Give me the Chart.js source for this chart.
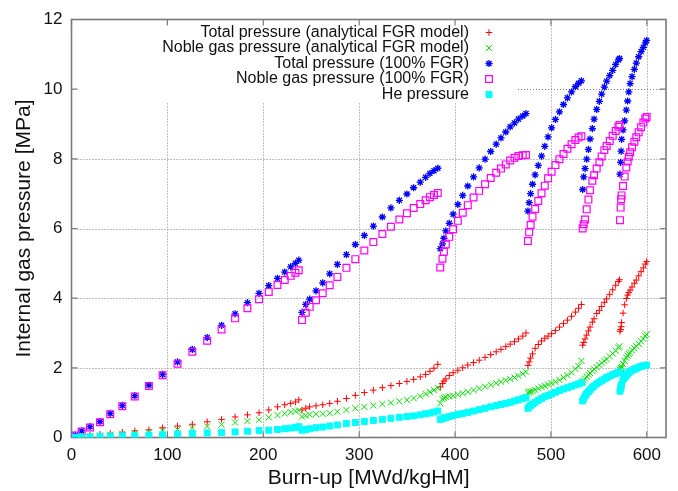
<!DOCTYPE html>
<html>
<head>
<meta charset="utf-8">
<script src="https://cdn.jsdelivr.net/npm/chart.js@4.4.1/dist/chart.umd.min.js"></script>
<style>
  html, body { margin: 0; padding: 0; background: #fff; }
</style>
</head>
<body>
<canvas id="gasChart" width="678" height="491"></canvas>
<script>
// burn-up steps, one row per irradiation cycle
const burnup = [
  4, 10.6, 19.3, 29.7, 40.4, 53, 66, 80.7, 95, 110.6, 126, 141.5, 156.5, 170.6, 183.5, 195.6, 205.7, 214.8, 222.4, 228.6, 233.5, 237,
  240.4, 244.3, 248.4, 255, 262, 269.3, 277.3, 286.7, 296, 305.4, 314.8, 324.2, 333.1, 341.9, 349.8, 356.8, 363.7, 369.3, 373.8, 378, 382,
  384.6, 386.9, 388.4, 390.4, 394, 398, 402.9, 408, 413.3, 419.3, 425.2, 431.3, 437.2, 442.9, 447.9, 452.9, 457.5, 462, 466.1, 470.6, 474,
  476, 477.3, 478.8, 480.8, 483.5, 486.8, 490.2, 493.6, 497, 500.7, 504.7, 508.9, 513.1, 517.2, 521.5, 525.5, 528.8, 531.8,
  533.1, 534.2, 535.6, 537.3, 539.1, 540.8, 543.2, 545, 547.7, 550.5, 552.9, 555.7, 558.1, 561.3, 564.4, 567.5, 570.3, 571.5,
  572, 572.7, 573.2, 573.7, 575.2, 576.9, 578.6, 580, 581.2, 582.6, 584.6, 587, 589, 591.5, 594, 596.4, 598.4, 599.8
];

// pressures in MPa
const totalAnalytical = [
  0.02, 0.04, 0.07, 0.09, 0.12, 0.15, 0.19, 0.22, 0.28, 0.33, 0.38, 0.45, 0.52, 0.59, 0.65, 0.71, 0.79, 0.88, 0.94, 0.98, 1.02, 1.08,
  0.79, 0.84, 0.88, 0.91, 0.94, 0.98, 1.04, 1.12, 1.21, 1.29, 1.36, 1.43, 1.49, 1.55, 1.61, 1.67, 1.74, 1.81, 1.9, 1.99, 2.1,
  1.45, 1.55, 1.62, 1.68, 1.78, 1.86, 1.93, 2.0, 2.08, 2.15, 2.22, 2.3, 2.38, 2.46, 2.53, 2.61, 2.68, 2.75, 2.83, 2.91, 3.0,
  2.07, 2.17, 2.28, 2.4, 2.56, 2.67, 2.77, 2.85, 2.91, 2.98, 3.07, 3.17, 3.27, 3.37, 3.48, 3.6, 3.71, 3.82,
  2.65, 2.73, 2.83, 2.94, 3.06, 3.17, 3.31, 3.41, 3.56, 3.65, 3.76, 3.88, 3.98, 4.11, 4.24, 4.37, 4.48, 4.53,
  3.05, 3.1, 3.18, 3.3, 3.57, 3.81, 3.99, 4.09, 4.16, 4.23, 4.32, 4.43, 4.52, 4.64, 4.76, 4.87, 4.98, 5.05
];
const nobleAnalytical = [
  0.01, 0.02, 0.05, 0.06, 0.08, 0.1, 0.13, 0.15, 0.19, 0.23, 0.27, 0.32, 0.37, 0.43, 0.47, 0.51, 0.58, 0.64, 0.69, 0.73, 0.76, 0.78,
  0.6, 0.63, 0.66, 0.67, 0.68, 0.7, 0.74, 0.79, 0.84, 0.88, 0.92, 0.96, 1.0, 1.04, 1.08, 1.13, 1.19, 1.25, 1.31, 1.36, 1.42,
  0.98, 1.1, 1.14, 1.16, 1.18, 1.2, 1.23, 1.27, 1.31, 1.36, 1.41, 1.46, 1.51, 1.56, 1.6, 1.64, 1.68, 1.72, 1.77, 1.83, 1.89,
  1.29, 1.31, 1.32, 1.34, 1.37, 1.41, 1.45, 1.48, 1.52, 1.56, 1.6, 1.65, 1.72, 1.79, 1.87, 1.97, 2.05, 2.2,
  1.6, 1.64, 1.69, 1.74, 1.8, 1.85, 1.91, 1.96, 2.02, 2.08, 2.14, 2.2, 2.25, 2.33, 2.41, 2.49, 2.58, 2.62,
  1.94, 1.97, 1.99, 2.03, 2.11, 2.2, 2.29, 2.35, 2.4, 2.44, 2.5, 2.56, 2.62, 2.69, 2.76, 2.83, 2.91, 2.96
];
const totalFullRelease = [
  0.07, 0.19, 0.31, 0.46, 0.69, 0.92, 1.2, 1.5, 1.81, 2.17, 2.53, 2.87, 3.22, 3.55, 3.87, 4.14, 4.36, 4.57, 4.75, 4.9, 5.0, 5.09,
  3.59, 3.82, 3.97, 4.21, 4.44, 4.7, 4.97, 5.25, 5.54, 5.8, 6.07, 6.33, 6.59, 6.81, 6.99, 7.17, 7.33, 7.47, 7.58, 7.66, 7.73,
  5.42, 5.56, 5.72, 5.93, 6.15, 6.41, 6.69, 6.95, 7.22, 7.48, 7.74, 7.99, 8.21, 8.42, 8.6, 8.77, 8.92, 9.03, 9.14, 9.23, 9.3,
  6.5, 6.74, 7.0, 7.27, 7.54, 7.81, 8.08, 8.36, 8.63, 8.89, 9.13, 9.35, 9.56, 9.75, 9.92, 10.07, 10.17, 10.24,
  7.12, 7.48, 7.72, 7.99, 8.27, 8.57, 8.87, 9.14, 9.42, 9.65, 9.86, 10.06, 10.23, 10.39, 10.54, 10.71, 10.84, 10.88,
  7.56, 7.9, 8.22, 8.56, 8.83, 9.09, 9.4, 9.66, 9.92, 10.16, 10.36, 10.57, 10.75, 10.93, 11.08, 11.2, 11.33, 11.4
];
const nobleFullRelease = [
  0.06, 0.17, 0.29, 0.44, 0.67, 0.9, 1.18, 1.48, 1.79, 2.12, 2.46, 2.78, 3.1, 3.42, 3.71, 3.97, 4.18, 4.38, 4.52, 4.64, 4.73, 4.8,
  3.37, 3.58, 3.75, 3.94, 4.14, 4.37, 4.61, 4.87, 5.12, 5.37, 5.61, 5.84, 6.05, 6.26, 6.44, 6.59, 6.7, 6.81, 6.9, 6.96, 7.02,
  4.88, 5.13, 5.33, 5.54, 5.76, 5.98, 6.22, 6.45, 6.67, 6.89, 7.08, 7.27, 7.45, 7.6, 7.72, 7.84, 7.95, 8.03, 8.08, 8.1, 8.11,
  5.64, 5.89, 6.1, 6.34, 6.56, 6.79, 7.01, 7.23, 7.44, 7.63, 7.82, 7.99, 8.14, 8.29, 8.42, 8.54, 8.61, 8.65,
  6.0, 6.12, 6.26, 6.55, 6.83, 7.1, 7.37, 7.53, 7.72, 7.9, 8.07, 8.25, 8.37, 8.51, 8.66, 8.8, 8.92, 8.97,
  6.24, 6.6, 6.84, 6.95, 7.22, 7.49, 7.75, 7.92, 8.06, 8.19, 8.33, 8.49, 8.62, 8.76, 8.91, 9.04, 9.16, 9.2
];
const helium = [
  0.01, 0.02, 0.02, 0.03, 0.04, 0.05, 0.06, 0.07, 0.08, 0.1, 0.11, 0.13, 0.14, 0.16, 0.18, 0.2, 0.21, 0.23, 0.25, 0.27, 0.29, 0.31,
  0.21, 0.23, 0.25, 0.28, 0.3, 0.33, 0.36, 0.4, 0.43, 0.46, 0.49, 0.52, 0.55, 0.58, 0.6, 0.62, 0.65, 0.68, 0.7, 0.73, 0.76,
  0.52, 0.54, 0.56, 0.57, 0.6, 0.63, 0.66, 0.69, 0.72, 0.76, 0.8, 0.84, 0.88, 0.92, 0.95, 0.98, 1.01, 1.05, 1.08, 1.12, 1.15,
  0.84, 0.88, 0.92, 0.96, 1.01, 1.07, 1.12, 1.17, 1.21, 1.25, 1.3, 1.35, 1.39, 1.43, 1.47, 1.51, 1.54, 1.57,
  1.05, 1.12, 1.19, 1.26, 1.32, 1.37, 1.44, 1.48, 1.54, 1.59, 1.63, 1.68, 1.72, 1.76, 1.8, 1.84, 1.87, 1.88,
  1.33, 1.41, 1.47, 1.52, 1.66, 1.72, 1.78, 1.83, 1.87, 1.9, 1.93, 1.96, 1.98, 2.02, 2.04, 2.06, 2.07, 2.08
];

const seriesLabels = [
  'Total pressure (analytical FGR model)',
  'Noble gas pressure (analytical FGR model)',
  'Total pressure (100% FGR)',
  'Noble gas pressure (100% FGR)',
  'He pressure'
];

const burnupTicks = [0, 100, 200, 300, 400, 500, 600];
const pressureTicks = [0, 2, 4, 6, 8, 10, 12];

const FONT = '"Liberation Sans", Arial, Helvetica, sans-serif';

function points(values) {
  return burnup.map((b, i) => ({ x: b, y: values[i] }));
}

function series(label, values, color, style, radius, filled, width, order) {
  return {
    label: label,
    data: points(values),
    pointStyle: style,
    pointRadius: radius,
    pointHoverRadius: radius,
    borderColor: color,
    backgroundColor: filled ? color : 'rgba(0,0,0,0)',
    pointBorderWidth: width,
    borderWidth: width,
    showLine: false,
    order: order
  };
}

const datasets = [
  series(seriesLabels[0], totalAnalytical, '#ff0000', 'cross', 3.3, false, 1, 5),
  series(seriesLabels[1], nobleAnalytical, '#00e000', 'crossRot', 4.3, false, 1, 4),
  series(seriesLabels[2], totalFullRelease, '#0000ff', 'star', 3.6, false, 1.3, 3),
  series(seriesLabels[3], nobleFullRelease, '#ff00ff', 'rect', 4.8, false, 1.2, 2),
  series(seriesLabels[4], helium, '#00ffff', 'rect', 4.2, true, 1, 1)
];

// gnuplot-like frame: dotted grid kept clear of the key, boxed border with inward ticks
const framePlugin = {
  id: 'frame',
  beforeDatasetsDraw(chart) {
    const { ctx, chartArea: a, scales: { x, y } } = chart;
    const keyRight = 518, keyBottom = 103;
    ctx.save();
    ctx.strokeStyle = '#808080';
    ctx.lineWidth = 1;
    ctx.setLineDash([1, 2]);
    burnupTicks.forEach(v => {
      const px = Math.round(x.getPixelForValue(v)) + 0.5;
      if (px <= a.left + 2 || px >= a.right - 2) return;
      ctx.beginPath();
      ctx.moveTo(px, a.bottom);
      ctx.lineTo(px, px < keyRight ? keyBottom : a.top);
      ctx.stroke();
    });
    pressureTicks.forEach(v => {
      const py = Math.round(y.getPixelForValue(v)) + 0.5;
      if (py <= a.top + 2 || py >= a.bottom - 2) return;
      ctx.beginPath();
      ctx.moveTo(py < keyBottom ? keyRight : a.left, py);
      ctx.lineTo(a.right, py);
      ctx.stroke();
    });
    ctx.setLineDash([]);
    ctx.strokeStyle = '#7a7a7a';
    ctx.lineWidth = 1.6;
    ctx.strokeRect(a.left, a.top, a.right - a.left, a.bottom - a.top);
    const t = 6;
    ctx.lineWidth = 1.2;
    ctx.beginPath();
    burnupTicks.forEach(v => {
      const px = x.getPixelForValue(v);
      ctx.moveTo(px, a.bottom); ctx.lineTo(px, a.bottom - t);
      ctx.moveTo(px, a.top); ctx.lineTo(px, a.top + t);
    });
    pressureTicks.forEach(v => {
      const py = y.getPixelForValue(v);
      ctx.moveTo(a.left, py); ctx.lineTo(a.left + t, py);
      ctx.moveTo(a.right, py); ctx.lineTo(a.right - t, py);
    });
    ctx.stroke();
    ctx.restore();
  },
  afterDraw(chart) {
    const { ctx, chartArea: a } = chart;
    ctx.save();
    ctx.fillStyle = '#111';
    ctx.font = '21px ' + FONT;
    ctx.textAlign = 'center';
    ctx.textBaseline = 'middle';
    ctx.fillText('Burn-up [MWd/kgHM]', (a.left + a.right) / 2, 478);
    ctx.translate(24, (a.top + a.bottom) / 2);
    ctx.rotate(-Math.PI / 2);
    ctx.fillText('Internal gas pressure [MPa]', 0, 0);
    ctx.restore();

    // key: right-aligned labels with the marker to their right
    ctx.save();
    ctx.font = '16px ' + FONT;
    ctx.textAlign = 'right';
    ctx.textBaseline = 'middle';
    chart.data.datasets.forEach((ds, i) => {
      const rowY = 32.5 + i * 15.5;
      ctx.fillStyle = '#111';
      ctx.fillText(ds.label, 469, rowY);
      ctx.strokeStyle = ds.borderColor;
      ctx.fillStyle = ds.backgroundColor;
      ctx.lineWidth = ds.pointBorderWidth;
      Chart.helpers.drawPoint(ctx, {
        pointStyle: ds.pointStyle,
        rotation: 0,
        radius: ds.pointRadius,
        borderWidth: ds.pointBorderWidth
      }, 489, rowY);
    });
    ctx.restore();
  }
};

new Chart(document.getElementById('gasChart'), {
  type: 'scatter',
  data: { datasets: datasets },
  options: {
    responsive: false,
    animation: false,
    events: [],
    layout: { padding: { left: 0, right: 12, top: 19.5, bottom: 0 } },
    plugins: { legend: { display: false }, tooltip: { enabled: false } },
    scales: {
      x: {
        type: 'linear',
        min: 0,
        max: 620,
        afterBuildTicks: s => { s.ticks = burnupTicks.map(v => ({ value: v })); },
        afterFit: s => { s.height = 53.5; },
        grid: { display: false, drawTicks: false },
        border: { display: false },
        ticks: { padding: 8, color: '#111', font: { family: FONT, size: 17 }, maxRotation: 0 }
      },
      y: {
        type: 'linear',
        min: 0,
        max: 12,
        afterBuildTicks: s => { s.ticks = pressureTicks.map(v => ({ value: v })); },
        afterFit: s => { s.width = 71.5; },
        grid: { display: false, drawTicks: false },
        border: { display: false },
        ticks: { padding: 9, color: '#111', font: { family: FONT, size: 17 } }
      }
    }
  },
  plugins: [framePlugin]
});
</script>
</body>
</html>
